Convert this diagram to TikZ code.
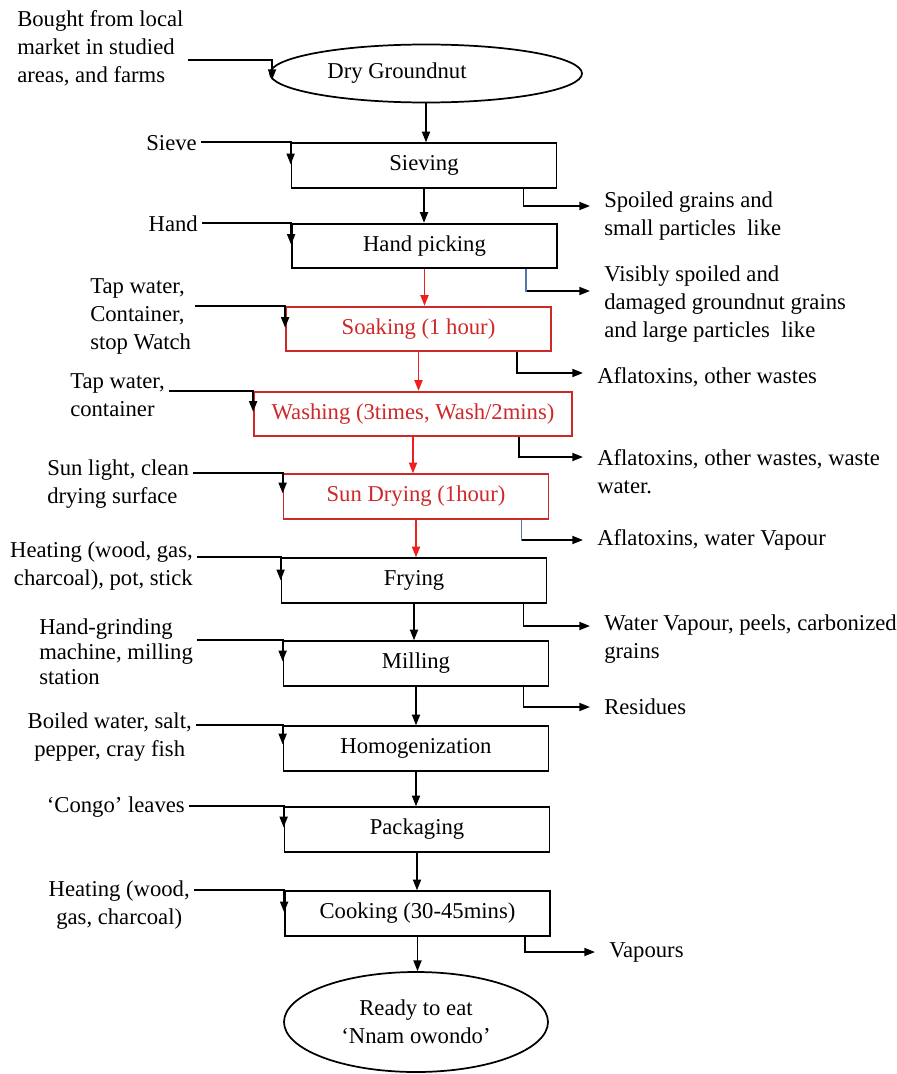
\documentclass[tikz,border=0pt]{standalone}
\usepackage{fontspec}
\setmainfont{Liberation Serif}
\usetikzlibrary{shapes.geometric,arrows.meta,calc}
\definecolor{stepred}{RGB}{206,40,40}
\definecolor{flowred}{RGB}{240,30,30}
\definecolor{wasteblue}{RGB}{80,120,175}
\tikzset{
	stepbox/.style={draw,line width=1.3pt,minimum width=198.75pt,minimum height=33.5pt,inner sep=0pt},
	redbox/.style={stepbox,draw=stepred,text=stepred},
	endpoint/.style={ellipse,draw,line width=1.3pt,inner sep=0pt},
	inl/.style={inner sep=3pt},
	outl/.style={inner xsep=10.5pt,inner ysep=2pt,align=left,anchor=west},
	feed/.style={line width=1.3pt,-{Triangle[length=8pt,width=6pt]}},
	redfeed/.style={feed,draw=flowred,-{Triangle[length=8pt,width=6pt,fill=flowred]}},
	blueseg/.style={wasteblue,line width=1pt}
}
\begin{document}
\begin{tikzpicture}[x=0.75pt,y=0.75pt,yscale=-1,font=\rmfamily\fontsize{17}{21}\selectfont]
\useasboundingbox (0,0) rectangle (896,1074);
%Main chain
\node[endpoint,minimum width=234pt,minimum height=43.5pt,label={[xshift=-21.75pt]center:Dry Groundnut}] (dry) at (426,73.5) {};
\node[stepbox] (sieve) at (424,165.5) {Sieving};
\node[stepbox] (hand) at (424.5,246) {Hand picking};
\node[redbox] (soak) at (418.5,329) {Soaking (1 hour)};
\node[redbox,minimum width=238.5pt] (wash) at (413,414) {Washing (3times, Wash/2mins)};
\node[redbox] (sun) at (416,496.5) {Sun Drying (1hour)};
\node[stepbox] (fry) at (414,580.5) {Frying};
\node[stepbox] (mill) at (416,663.5) {Milling};
\node[stepbox] (homog) at (416,748.5) {Homogenization};
\node[stepbox] (pack) at (417,829.5) {Packaging};
\node[stepbox] (cook) at (417.5,913.5) {Cooking (30-45mins)};
\node[endpoint,minimum width=198pt,minimum height=75pt,align=center] (ready) at (416,1022) {Ready to eat\\‘Nnam owondo’};

\draw[feed] (dry.south) -- (dry.south |- sieve.north);
\draw[feed] (sieve.south) -- (sieve.south |- hand.north);
\draw[redfeed] (hand.south) -- (hand.south |- soak.north);
\draw[redfeed] (soak.south) -- (soak.south |- wash.north);
\draw[redfeed] (wash.south) -- (wash.south |- sun.north);
\draw[redfeed] (sun.south) -- (sun.south |- fry.north);
\draw[feed] (fry.south) -- (fry.south |- mill.north);
\draw[feed] (mill.south) -- (mill.south |- homog.north);
\draw[feed] (homog.south) -- (homog.south |- pack.north);
\draw[feed] (pack.south) -- (pack.south |- cook.north);
\draw[feed] (cook.south) -- (cook.south |- ready.north);

%Inputs
\coordinate (indry) at (272,60);
\node[inl,align=left,anchor=west] (lbought) at (13,48) {Bought from local\\market in studied\\areas, and farms};
\node[inl,anchor=east] (lsieve) at (201,143) {Sieve};
\node[inl,anchor=east] (lhand) at (202,224) {Hand};
\node[inl,align=left,anchor=west] (lsoak) at (86,316.5) {Tap water,\\Container,\\stop Watch};
\node[inl,align=left,anchor=west] (lwash) at (66,395.5) {Tap water,\\container};
\node[inl,align=left,anchor=west] (lsun) at (43,484.5) {Sun light, clean\\drying surface};
\node[inl,align=right,anchor=east] (lfry) at (197,566.5) {Heating (wood, gas,\\charcoal), pot, stick};
\node[inl,align=left,anchor=west,font=\rmfamily\fontsize{17}{18.75}\selectfont] (lmill) at (35,652) {Hand-grinding\\machine, milling\\station};
\node[inl,align=center,anchor=east] (lhomog) at (196,737) {Boiled water, salt,\\pepper, cray fish};
\node[inl,anchor=east] (lpack) at (189,807) {‘Congo’ leaves};
\node[inl,align=center,anchor=east] (lcook) at (194,905) {Heating (wood,\\gas, charcoal)};

\draw[feed] (lbought.east |- indry) -- (indry) -- ++(0,20);
\draw[feed] (lsieve.east |- sieve.north west) -- (sieve.north west) -- ++(0,22);
\draw[feed] (lhand.east |- hand.north west) -- (hand.north west) -- ++(0,22);
\draw[feed] (lsoak.east |- soak.north west) -- (soak.north west) -- ++(0,22);
\draw[feed] (lwash.east |- wash.north west) -- (wash.north west) -- ++(0,21);
\draw[feed] (lsun.east |- sun.north west) -- (sun.north west) -- ++(0,20);
\draw[feed] (lfry.east |- fry.north west) -- (fry.north west) -- ++(0,23);
\draw[feed] (lmill.east |- mill.north west) -- (mill.north west) -- ++(0,21);
\draw[feed] (lhomog.east |- homog.north west) -- (homog.north west) -- ++(0,19);
\draw[feed] (lpack.east |- pack.north west) -- (pack.north west) -- ++(0,21);
\draw[feed] (lcook.east |- cook.north west) -- (cook.north west) -- ++(0,22);

%Outputs
\node[outl] (o1) at (590,216) {Spoiled grains and\\small particles~ like};
\node[outl] (o2) at (590,304) {Visibly spoiled and\\damaged groundnut grains\\and large particles~ like};
\node[outl] (o3) at (583,377) {Aflatoxins, other wastes};
\node[outl] (o4) at (583,472) {Aflatoxins, other wastes, waste\\water.};
\node[outl] (o5) at (583,540) {Aflatoxins, water Vapour};
\node[outl] (o6) at (590,639.5) {Water Vapour, peels, carbonized\\grains};
\node[outl] (o7) at (590,707) {Residues};
\node[outl] (o8) at (595,952) {Vapours};

\draw[feed] ($(sieve.south east)+(-34,0)$) |- ($(o1.west)+(0,-10)$);
\draw[feed] ($(hand.south east)+(-32,0)$) |- ($(o2.west)+(0,-13)$);
\draw[blueseg] ($(hand.south east)+(-32,0)$) -- ++(0,23);
\draw[feed] ($(soak.south east)+(-35,0)$) |- ($(o3.west)+(0,-4)$);
\draw[feed] ($(wash.south east)+(-54,0)$) |- ($(o4.west)+(0,-15)$);
\draw[feed] ($(sun.south east)+(-28,0)$) |- (o5.west);
\draw[blueseg] ($(sun.south east)+(-28,0)$) -- ++(0,21);
\draw[feed] ($(fry.south east)+(-24,0)$) |- ($(o6.west)+(0,-13.5)$);
\draw[feed] ($(mill.south east)+(-26,0)$) |- (o7.west);
\draw[feed] ($(cook.south east)+(-26,0)$) |- (o8.west);
\end{tikzpicture}
\end{document}
